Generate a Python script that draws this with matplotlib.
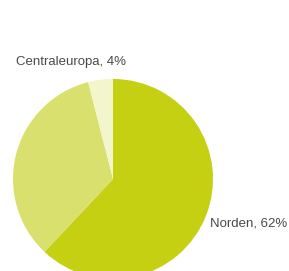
import matplotlib.pyplot as plt

# Andel per region
regions = ['Norden', 'Övrigt', 'Centraleuropa']
shares = [62, 34, 4]
colors = ['#c4d011', '#d9e06d', '#f3f5cc']

fig = plt.figure(figsize=(2.89, 2.71), dpi=100)
ax = fig.add_axes([0, 0, 1, 1])

ax.pie(shares, colors=colors, startangle=90, counterclock=False,
       center=(113, 92), radius=100, frame=True,
       wedgeprops=dict(linewidth=0))
ax.set_xlim(0, 289)
ax.set_ylim(0, 271)
ax.set_aspect('equal')
ax.axis('off')

font = dict(family=['Liberation Sans', 'DejaVu Sans'], fontsize=9.5, color='#4a4a4a')
ax.text(16, 209, f'{regions[2]}, {shares[2]}%', ha='left', va='center', **font)
ax.text(210, 47, f'{regions[0]}, {shares[0]}%', ha='left', va='center', **font)

fig.savefig('out.png', dpi=100)
